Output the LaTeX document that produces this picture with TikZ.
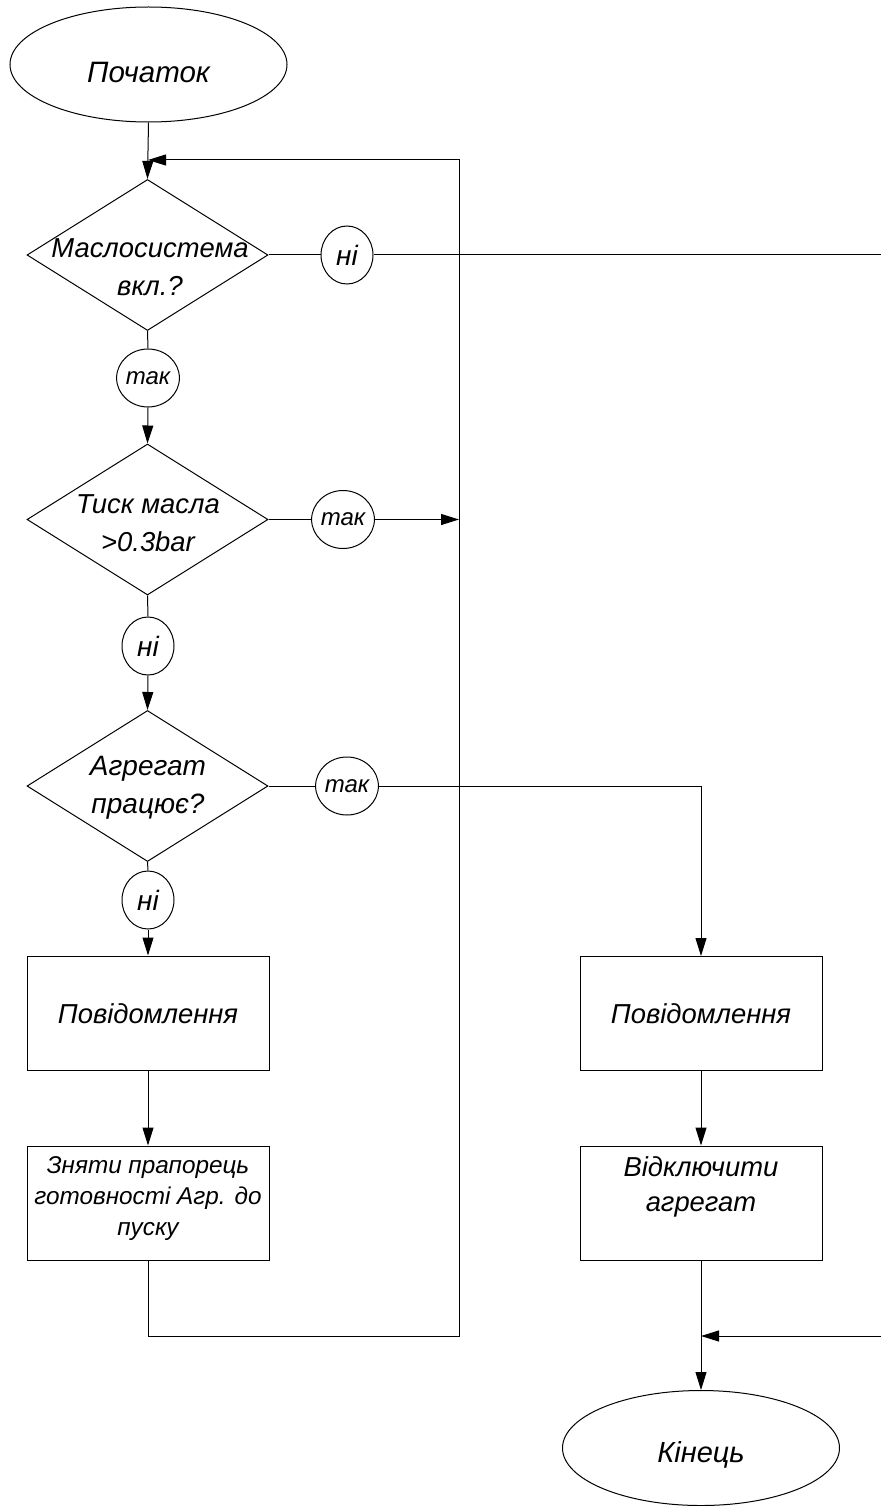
\documentclass[tikz,border=0pt]{standalone}
\usepackage{fontspec}
\setmainfont{Liberation Sans}
\usetikzlibrary{shapes.geometric,arrows.meta}
\begin{document}
\begin{tikzpicture}[x=1pt,y=-1pt,
  line width=1pt,
  arr/.style={-{Triangle[length=18pt,width=11pt]}},
  term/.style={draw,ellipse,minimum width=277pt,minimum height=115pt,inner sep=0pt},
  dec/.style={draw,diamond,minimum width=241pt,minimum height=151pt,inner sep=0pt},
  proc/.style={draw,rectangle,minimum width=242pt,minimum height=114pt,inner sep=0pt},
  conn/.style={draw,ellipse,minimum width=52pt,minimum height=58pt,inner sep=0pt,font=\fontsize{24}{28}\selectfont\itshape},
  connb/.style={conn,font=\fontsize{28}{30}\selectfont\itshape},
  txt/.style={inner sep=0pt,align=center,font=\fontsize{27.4}{30}\selectfont\itshape},
  dtxt/.style={inner sep=0pt,align=center,font=\fontsize{27.4}{38}\selectfont\itshape}
]
\useasboundingbox (0,0) rectangle (881,1506);

% terminals
\node[term] (start) at (148.5,64.5) {};
\node[txt,font=\fontsize{29.5}{30}\selectfont\itshape] (startt) at (148.5,72) {Початок};
\node[term] (end) at (701,1448) {};
\node[txt,font=\fontsize{29}{30}\selectfont\itshape] (endt) at (701,1455) {Кінець};

% decisions
\node[dec] (d1) at (147.5,255) {};
\node[dtxt] (d1t) at (150,267) {Маслосистема\\вкл.?};
\node[dec] (d2) at (147.5,519.5) {};
\node[dtxt] (d2t) at (148,523) {Тиск масла\\>0.3bar};
\node[dec] (d3) at (147.5,786) {};
\node[dtxt,font=\fontsize{28}{38}\selectfont\itshape] (d3t) at (148,788) {Агрегат\\працює?};

% connectors (circles)
\node[connb] (c1) at (347,255) {ні};
\node[conn] (c2) at (148,378) {так};
\node[conn] (c3) at (343,519.5) {так};
\node[connb] (c4) at (148,646) {ні};
\node[conn] (c5) at (347,786) {так};
\node[connb] (c6) at (148,900) {ні};

% processes
\node[proc] (r1) at (148,1013) {};
\node[txt] (r1t) at (148,1014) {Повідомлення};
\node[proc] (r2) at (148,1203) {};
\node[txt,font=\fontsize{24.3}{31}\selectfont\itshape] (r2t) at (148,1199) {Зняти прапорець\\готовності Агр. до\\пуску};
\node[proc] (r3) at (701,1013.5) {};
\node[txt] (r3t) at (701,1014) {Повідомлення};
\node[proc] (r4) at (701,1203) {};
\node[txt,font=\fontsize{27.4}{35}\selectfont\itshape] (r4t) at (701,1187) {Відключити\\агрегат};

% coordinates
\coordinate (jn) at (148,160);
\coordinate (lr) at (459,1336);
\coordinate (lm) at (459,519.5);
\coordinate (e1) at (881,255);
\coordinate (e2) at (881,1336);
\coordinate (j2) at (701,1336);

% flow
\draw[arr] (start.south) -- (d1.north);
\draw[arr] (r2.south) |- (lr) |- (jn);
\draw (d1.east) -- (c1.west);
\draw (c1.east) -- (e1);
\draw (d1.south) -- (c2.north);
\draw[arr] (c2.south) -- (d2.north);
\draw (d2.east) -- (c3.west);
\draw[arr] (c3.east) -- (lm);
\draw (d2.south) -- (c4.north);
\draw[arr] (c4.south) -- (d3.north);
\draw (d3.east) -- (c5.west);
\draw[arr] (c5.east) -| (r3.north);
\draw (d3.south) -- (c6.north);
\draw[arr] (c6.south) -- (r1.north);
\draw[arr] (r1.south) -- (r2.north);
\draw[arr] (r3.south) -- (r4.north);
\draw[arr] (r4.south) -- (end.north);
\draw[arr] (e2) -- (j2);
\end{tikzpicture}
\end{document}
